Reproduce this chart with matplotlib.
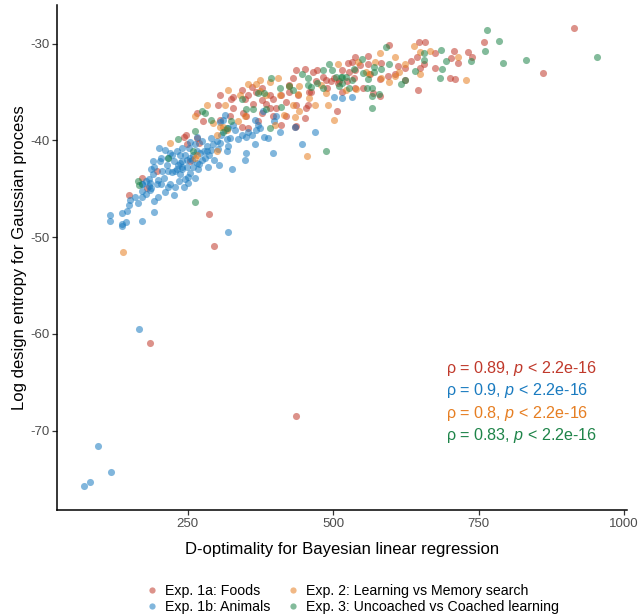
import numpy as np
import matplotlib
matplotlib.use('Agg')
import matplotlib.pyplot as plt
from matplotlib.lines import Line2D

plt.rcParams['font.family'] = ['Liberation Sans', 'DejaVu Sans']
plt.rcParams['mathtext.fontset'] = 'custom'
plt.rcParams['mathtext.rm'] = 'Liberation Sans'
plt.rcParams['mathtext.it'] = 'Liberation Sans:italic'
plt.rcParams['axes.unicode_minus'] = False

foods = [
    (149, -45.6), (172, -43.9), (180, -44.9), (197, -43.2), (247, -39.4), (243, -39.6), (266, -39.8),
    (269, -40.3), (254, -42.1), (277, -38.0), (287, -47.6), (295, -50.9), (306, -35.3), (328, -35.5),
    (325, -35.7), (343, -34.8), (348, -35.7), (354, -35.3), (360, -34.5), (368, -35.0), (377, -34.6),
    (378, -35.8), (385, -36.2), (391, -35.3), (397, -35.7), (402, -36.7), (411, -38.4), (411, -35.3),
    (419, -36.0), (425, -35.0), (431, -33.6), (437, -32.7), (439, -35.3), (451, -32.6), (453, -36.7),
    (452, -37.7), (456, -36.3), (459, -35.0), (465, -32.9), (471, -33.9), (473, -32.7), (482, -33.4),
    (488, -33.8), (507, -37.0), (510, -33.9), (516, -32.7), (527, -32.9), (533, -31.9), (538, -31.4),
    (344, -38.6), (351, -37.5), (377, -37.2), (371, -38.0), (397, -37.5),
    (185, -60.9), (437, -68.5),
    (914, -28.4), (861, -33.0), (759, -29.8), (731, -30.9), (738, -31.4), (715, -32.0), (708, -30.8),
    (702, -31.5), (700, -33.5), (709, -33.7), (675, -31.0), (675, -32.5), (647, -29.8), (657, -29.8),
    (644, -31.4), (650, -32.5), (656, -32.1), (645, -34.8), (633, -31.8), (624, -32.5), (623, -33.8),
    (611, -32.3), (596, -30.1), (595, -33.3), (580, -33.7), (581, -35.4), (583, -32.0), (568, -35.1),
    (560, -31.3), (560, -32.1), (552, -34.6), (547, -32.2), (526, -32.0), (537, -32.7), (537, -34.6),
    (535, -33.6), (523, -33.9),
    (436, -36.3), (436, -38.5), (425, -34.3), (462, -35.0), (490, -34.6), (496, -33.9), (502, -33.6),
    (508, -34.1), (516, -35.0), (564, -33.1), (607, -33.1),
    (362, -36.2), (391, -36.7), (303, -36.3), (266, -37.2), (328, -36.7), (306, -37.9), (249, -40.4),
    (323, -37.5), (354, -38.7), (345, -37.2), (419, -37.5), (434, -38.6),
]

animals = [
    (116, -47.7), (116, -48.3), (137, -47.5), (138, -48.6), (138, -48.8), (145, -48.4), (146, -47.3),
    (151, -46.2), (149, -46.7), (171, -45.2), (171, -45.9), (172, -48.3), (171, -44.5), (183, -44.0),
    (185, -44.4), (192, -46.3), (192, -47.4), (186, -45.1), (197, -44.5), (191, -42.1), (192, -42.8),
    (201, -40.8), (203, -42.1), (206, -43.2), (209, -43.9), (214, -42.5), (217, -43.2), (220, -44.5),
    (223, -41.5), (226, -42.1), (229, -43.2), (232, -41.1), (234, -42.5), (237, -43.5), (240, -42.1),
    (246, -41.5), (249, -42.8), (251, -44.4), (255, -41.8), (260, -42.7), (263, -40.4), (266, -41.1),
    (270, -42.4), (274, -40.1), (278, -41.1), (283, -40.6), (287, -41.5), (291, -39.8), (294, -40.4),
    (300, -40.1), (303, -40.9), (304, -42.5), (308, -39.4), (314, -38.9), (317, -41.1), (323, -39.8),
    (327, -43.0), (331, -38.9), (337, -39.9), (343, -39.4), (348, -42.0), (351, -41.3), (354, -39.1),
    (360, -39.4), (365, -40.4), (371, -38.4), (374, -38.7), (379, -37.0), (382, -39.6), (388, -39.8),
    (397, -41.3), (399, -38.0), (408, -39.1), (402, -37.5), (434, -38.6), (446, -40.4), (469, -39.1),
    (502, -35.5), (516, -35.6), (533, -35.5), (319, -49.5),
    (167, -59.5), (97, -71.6), (119, -74.3), (82, -75.3), (72, -75.7),
    (314, -37.4), (306, -38.1), (320, -38.7), (328, -38.4), (368, -38.9), (320, -40.6), (266, -39.7),
    (252, -40.8), (306, -40.3), (317, -39.9), (351, -39.7), (365, -37.9), (311, -37.9),
    (187, -44.9), (199, -44.1), (217, -44.8), (223, -43.3), (232, -43.0), (240, -42.8), (254, -43.4),
    (237, -42.3), (217, -41.8), (237, -41.5), (249, -42.0), (260, -41.5), (271, -41.3), (266, -42.3),
    (280, -41.8), (283, -41.1), (220, -41.3), (178, -44.2), (183, -44.7), (172, -44.5),
    (240, -43.0), (245, -44.0), (250, -43.8), (258, -42.0), (262, -43.9), (268, -43.0), (275, -42.0),
    (285, -42.8), (290, -41.0), (296, -42.0), (241, -40.8), (255, -40.2), (244, -44.8), (236, -44.2),
    (229, -44.8), (226, -45.6), (212, -45.3), (205, -44.5), (200, -45.8), (190, -43.5), (188, -43.0),
    (178, -45.5), (165, -46.5), (160, -45.8), (205, -41.8), (212, -41.0),
]

memory = [
    (139, -51.5), (220, -40.3), (262, -37.5), (283, -36.3), (266, -41.5), (263, -41.8), (301, -41.1),
    (306, -38.6), (315, -36.3), (320, -34.8), (340, -35.3), (354, -34.2), (368, -34.2), (375, -33.8),
    (385, -35.3), (392, -34.0), (400, -38.4), (408, -35.3), (416, -37.4), (431, -36.3), (435, -37.6),
    (442, -37.0), (455, -41.6), (468, -36.3), (492, -36.3), (502, -37.9), (522, -34.8), (311, -38.6),
    (317, -38.9), (300, -39.4), (405, -33.6), (425, -34.4), (442, -34.4),
    (729, -33.8), (714, -31.4), (666, -30.8), (649, -33.1), (650, -30.9), (639, -30.2), (624, -32.1),
    (613, -32.9), (606, -31.4), (607, -33.3), (596, -34.0), (580, -31.0), (572, -31.9), (583, -33.5),
    (562, -33.1), (542, -31.9), (539, -34.7),
    (508, -32.1), (439, -35.2), (479, -34.3), (488, -35.1), (556, -32.9), (459, -35.6),
    (293, -38.2), (337, -38.0), (348, -37.5), (374, -34.9),
]

coached = [
    (164, -44.2), (166, -44.6), (217, -41.8), (234, -39.9), (260, -41.1), (263, -46.4), (274, -37.0),
    (280, -37.2), (290, -37.9), (311, -39.1), (317, -38.7), (343, -35.7), (351, -36.8), (362, -36.8),
    (382, -35.1), (391, -38.7), (394, -33.6), (408, -34.6), (411, -36.5), (425, -34.4), (431, -34.8),
    (447, -33.1), (456, -33.6), (462, -34.5), (473, -34.1), (482, -34.6), (488, -41.1), (493, -32.1),
    (498, -32.7), (505, -33.4), (516, -34.1), (522, -33.4), (527, -34.6), (533, -33.8), (536, -32.6),
    (953, -31.4), (832, -31.7), (791, -32.0), (785, -29.7), (764, -28.6), (760, -30.8), (737, -31.8),
    (694, -31.8), (686, -30.7), (687, -32.6), (683, -33.5), (656, -31.0), (656, -31.7), (641, -32.8),
    (624, -33.8), (616, -34.2), (596, -32.1), (590, -30.3), (583, -32.6), (570, -32.4), (571, -32.9),
    (566, -36.7), (567, -34.6), (567, -35.4), (579, -35.2), (560, -33.7), (551, -33.0), (550, -31.6),
    (513, -33.4), (510, -34.4),
    (482, -32.7), (516, -33.4), (456, -34.3), (559, -34.6),
    (324, -38.0), (371, -35.1), (385, -36.8), (263, -39.0),
]

labels = ['Exp. 1a: Foods', 'Exp. 1b: Animals',
          'Exp. 2: Learning vs Memory search', 'Exp. 3: Uncoached vs Coached learning']
colors = ['#C0392B', '#1A7BC0', '#E67E22', '#1E8449']
rho = ['0.89', '0.9', '0.8', '0.83']

fig = plt.figure(figsize=(6.39, 6.16), dpi=100)
ax = fig.add_axes([0.089, 0.172, 0.892, 0.820])

groups = [foods, animals, memory, coached]
for pts, col in zip(groups, colors):
    arr = np.array(pts)
    ax.scatter(arr[:, 0], arr[:, 1], s=26, color=col, alpha=0.55, linewidths=0)

# correlation annotations
for i, (r, col) in enumerate(zip(rho, colors)):
    ax.text(694, -63.6 - 2.29 * i, 'ρ = ' + r + ', $p$ < 2.2e-16', color=col,
            fontsize=11.6, ha='left', va='center')

ax.set_xlim(25.5, 1004.5)
ax.set_ylim(-78.2, -26.0)
ax.set_xticks([250, 500, 750, 1000])
ax.set_yticks([-70, -60, -50, -40, -30])
for s in ['top', 'right']:
    ax.spines[s].set_visible(False)
for s in ['left', 'bottom']:
    ax.spines[s].set_linewidth(1.1)
ax.tick_params(axis='both', length=3.5, width=0.9, color='#333333',
               labelcolor='#4D4D4D', labelsize=9.5, pad=2)
ax.set_xlabel('D-optimality for Bayesian linear regression', fontsize=12, labelpad=9)
ax.set_ylabel('Log design entropy for Gaussian process', fontsize=12, labelpad=2)

handles = [Line2D([], [], marker='o', linestyle='', markersize=4.5, markeredgewidth=0,
                  color=c, alpha=0.55) for c in colors]
fig.legend(handles, labels, loc='center', bbox_to_anchor=(0.55, 0.028), ncol=2,
           frameon=False, fontsize=10.2, handletextpad=0.3, columnspacing=1.0,
           labelspacing=0.15, handlelength=1.2)

fig.savefig('out.png', dpi=100)
